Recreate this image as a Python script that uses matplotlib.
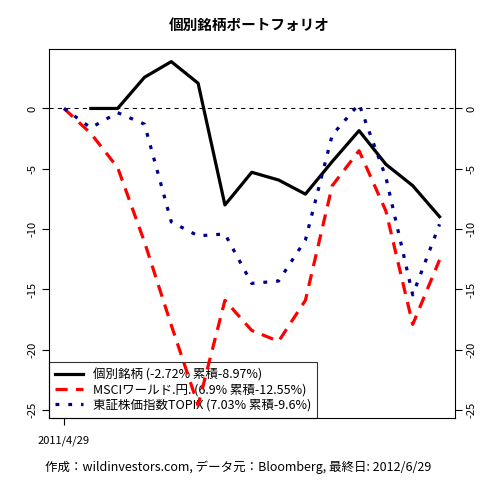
import numpy as np
import matplotlib
matplotlib.use("Agg")
import matplotlib.pyplot as plt

plt.rcParams['font.family'] = ['Noto Sans CJK JP', 'DejaVu Sans']

# month-end dates, 2011/4/29 .. 2012/6/29
dates = ["2011/4/29", "2011/5/31", "2011/6/30", "2011/7/29", "2011/8/31",
         "2011/9/30", "2011/10/31", "2011/11/30", "2011/12/30", "2012/1/31",
         "2012/2/29", "2012/3/30", "2012/4/27", "2012/5/31", "2012/6/29"]

# cumulative returns (%)
portfolio = [np.nan, 0, 0, 2.58, 3.88, 2.09, -8.0, -5.29, -5.93, -7.1,
             -4.4, -1.84, -4.63, -6.4, -8.97]
msci = [0, -2.07, -4.9, -11.06, -17.96, -24.6, -15.9, -18.4, -19.3, -15.9,
        -6.4, -3.5, -8.5, -17.9, -12.55]
topix = [0, -1.6, -0.35, -1.3, -9.4, -10.56, -10.4, -14.5, -14.3, -10.9,
         -2.2, 0.37, -5.7, -15.45, -9.6]

labels = ["個別銘柄 (-2.72% 累積-8.97%)",
          "MSCIワールド.円. (6.9% 累積-12.55%)",
          "東証株価指数TOPIX (7.03% 累積-9.6%)"]

yticks = [0, -5, -10, -15, -20, -25]

x = np.arange(1, len(dates) + 1)

fig = plt.figure(figsize=(4.8, 4.8), dpi=100)
ax = fig.add_axes([0.102, 0.130, 0.845, 0.768])

ax.axhline(0, color="black", lw=0.75, linestyle=(0, (4, 4)))
ax.plot(x, portfolio, color="black", lw=2.3, label=labels[0], zorder=4)
ax.plot(x, msci, color="red", lw=2.3, linestyle=(0, (3.8, 2.6)), label=labels[1], zorder=4)
ax.plot(x, topix, color="#00008B", lw=2.3, linestyle=(0, (1.2, 2.8)), label=labels[2], zorder=4)

ax.set_xlim(0.44, 15.56)
ax.set_ylim(-25.62, 4.93)

ax.set_xticks([1])
ax.set_xticklabels([dates[0]], fontsize=8)
ax.set_yticks(yticks)
ax.set_yticklabels([str(v) for v in yticks], fontsize=8)
ax.tick_params(axis="y", right=True, labelright=True, length=5, width=0.8,
               labelrotation=90)
ax.tick_params(axis="x", length=5, width=0.8, pad=8)
for lab in ax.yaxis.get_ticklabels(which="both"):
    lab.set_va("center")

for s in ax.spines.values():
    s.set_linewidth(0.8)

leg = ax.legend(loc="lower left", borderaxespad=0, fancybox=False,
                edgecolor="black", facecolor="none", framealpha=None, fontsize=9,
                handlelength=2.2, labelspacing=0.15, borderpad=0.5)
leg.get_frame().set_linewidth(0.8)
leg.set_zorder(3)

fig.text(0.519, 0.948, "個別銘柄ポートフォリオ", ha="center", va="center",
         fontsize=10.5, fontweight="bold")
fig.text(0.496, 0.027, "作成：wildinvestors.com, データ元：Bloomberg, 最終日: 2012/6/29",
         ha="center", va="center", fontsize=9)

fig.savefig("out.png", dpi=100)
